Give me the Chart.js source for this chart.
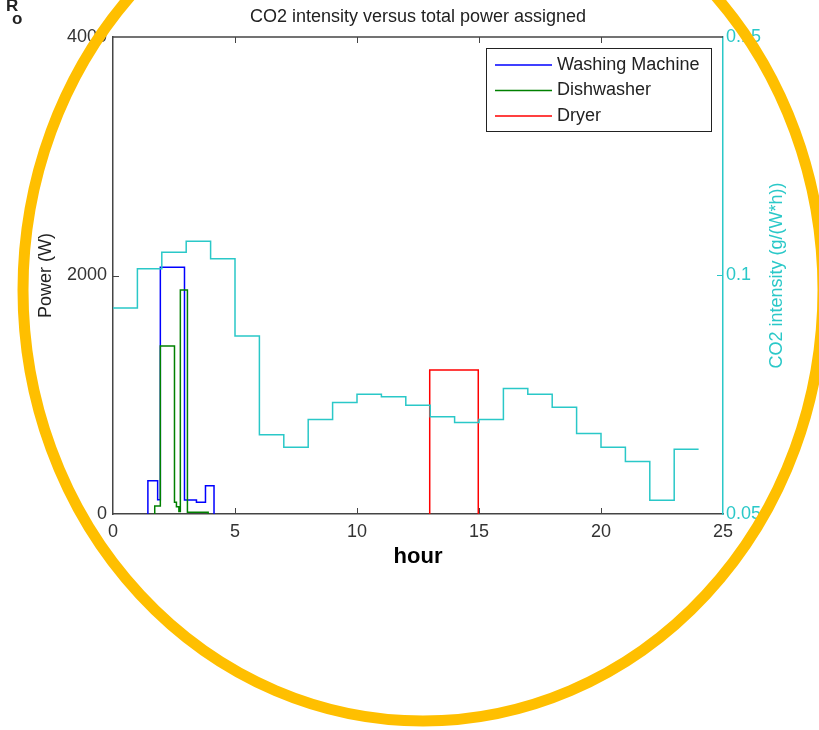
<!DOCTYPE html>
<html>
<head>
<meta charset="utf-8">
<title>CO2 intensity versus total power assigned</title>
<script src="https://cdn.jsdelivr.net/npm/chart.js@4.4.1/dist/chart.umd.min.js"></script>
<style>
  html, body { margin: 0; padding: 0; background: #fff; }
  #box { width: 819px; height: 730px; position: relative; }
</style>
</head>
<body>
<div id="box"><canvas id="chart"></canvas></div>
<script>
// hourly CO2 intensity (g/(W*h)), one value per hour 0-23
const co2Hours = [0, 1, 2, 3, 4, 5, 6, 7, 8, 9, 10, 11, 12, 13, 14, 15, 16, 17, 18, 19, 20, 21, 22, 23, 24]
const co2Intensity = [0.0932, 0.1014, 0.1049, 0.1072, 0.1035, 0.0873, 0.0666, 0.0640, 0.0698, 0.0734, 0.0751, 0.0746,
    0.0728, 0.0704, 0.0692, 0.0698, 0.0763, 0.0751, 0.0724, 0.0669, 0.0640, 0.0610, 0.0529, 0.0636]

// appliance power (W); each value holds up to its time
const washTimes = [1.43, 1.83, 1.94, 2.93, 3.42, 3.79, 4.14, 4.14]
const washPower = [0, 279, 120, 2069, 117, 98, 237, 0]
const dishTimes = [1.71, 1.94, 2.52, 2.60, 2.70, 2.76, 3.05, 3.90, 3.90]
const dishPower = [0, 67, 1409, 98, 61, 20, 1878, 14, 0]
const dryerTimes = [12.98, 14.97, 14.97]
const dryerPower = [0, 1208, 0]

// tick labels
const hourTicks = [0, 5, 10, 15, 20, 25]
const powerTicks = [0, 2000, 4000]
const co2Ticks = [0.05, 0.1, 0.15]

const FONT = "'Liberation Sans', Arial, Helvetica, sans-serif"
const CYAN = '#2ac8c8'
const AXIS = '#444'

function steps(times, values) {
    return times.map((t, i) => ({ x: t, y: values[i] }))
}

const co2Data = co2Hours.map((h, i) => ({ x: h, y: co2Intensity[Math.max(0, i - 1)] }))

function setTicks(list) {
    return scale => { scale.ticks = list.map(v => ({ value: v })) }
}

const decor = {
    id: 'decor',
    beforeDraw(chart) {
        const ctx = chart.ctx
        ctx.save()
        ctx.fillStyle = '#fff'
        ctx.fillRect(0, 0, chart.width, chart.height)
        ctx.restore()
    },
    afterDraw(chart) {
        const { ctx, chartArea: a, scales } = chart
        ctx.save()

        // top border of the box
        ctx.strokeStyle = AXIS
        ctx.lineWidth = 1.5
        ctx.beginPath()
        ctx.moveTo(a.left, a.top)
        ctx.lineTo(a.right, a.top)
        ctx.stroke()

        // inward tick marks
        ctx.lineWidth = 1
        ctx.beginPath()
        hourTicks.slice(1, -1).forEach(h => {
            const x = Math.round(scales.x.getPixelForValue(h)) + 0.5
            ctx.moveTo(x, a.bottom); ctx.lineTo(x, a.bottom - 6)
            ctx.moveTo(x, a.top); ctx.lineTo(x, a.top + 6)
        })
        powerTicks.slice(1, -1).forEach(p => {
            const y = Math.round(scales.y.getPixelForValue(p)) + 0.5
            ctx.moveTo(a.left, y); ctx.lineTo(a.left + 6, y)
        })
        ctx.stroke()
        ctx.strokeStyle = CYAN
        ctx.beginPath()
        co2Ticks.slice(1, -1).forEach(c => {
            const y = Math.round(scales.y2.getPixelForValue(c)) + 0.5
            ctx.moveTo(a.right, y); ctx.lineTo(a.right - 6, y)
        })
        ctx.stroke()

        // title
        ctx.fillStyle = '#222'
        ctx.font = '18px ' + FONT
        ctx.textAlign = 'center'
        ctx.textBaseline = 'middle'
        ctx.fillText('CO2 intensity versus total power assigned', (a.left + a.right) / 2, 17)

        // right axis title, reading upwards
        ctx.save()
        ctx.translate(777, (a.top + a.bottom) / 2)
        ctx.rotate(-Math.PI / 2)
        ctx.fillStyle = CYAN
        ctx.fillText('CO2 intensity (g/(W*h))', 0, 0)
        ctx.restore()

        // legend
        const items = chart.data.datasets.filter(d => d.inLegend)
        ctx.fillStyle = '#fff'
        ctx.fillRect(486, 48, 225, 83)
        ctx.strokeStyle = '#222'
        ctx.lineWidth = 1
        ctx.strokeRect(486.5, 48.5, 225, 83)
        ctx.textAlign = 'left'
        items.forEach((d, i) => {
            const y = 65 + i * 25.5
            ctx.strokeStyle = d.borderColor
            ctx.lineWidth = 1.5
            ctx.beginPath()
            ctx.moveTo(495, y)
            ctx.lineTo(552, y)
            ctx.stroke()
            ctx.fillStyle = '#222'
            ctx.fillText(d.label, 557, y)
        })

        // cropped header text from the page
        ctx.fillStyle = '#222'
        ctx.font = 'bold 17px ' + FONT
        ctx.fillText('R', 6, 6)
        ctx.fillText('o', 12, 19)

        // highlight ring
        ctx.strokeStyle = '#ffbf00'
        ctx.lineWidth = 11
        ctx.beginPath()
        ctx.ellipse(423, 290, 400, 431, 0, 0, Math.PI * 2)
        ctx.stroke()

        ctx.restore()
    }
}

const grafico = new Chart(document.getElementById('chart'), {
    type: 'line',
    data: {
        datasets: [
            { label: 'Washing Machine', inLegend: true, data: steps(washTimes, washPower), borderColor: '#0000ff', yAxisID: 'y', order: 3 },
            { label: 'Dishwasher', inLegend: true, data: steps(dishTimes, dishPower), borderColor: '#008000', yAxisID: 'y', order: 2 },
            { label: 'Dryer', inLegend: true, data: steps(dryerTimes, dryerPower), borderColor: '#ff0000', yAxisID: 'y', order: 1 },
            { label: 'CO2 intensity', inLegend: false, data: co2Data, borderColor: CYAN, yAxisID: 'y2', order: 0 }
        ]
    },
    options: {
        responsive: true,
        maintainAspectRatio: false,
        animation: false,
        events: [],
        layout: { padding: { top: 37, bottom: 146, left: 0, right: 0 } },
        elements: {
            line: { borderWidth: 1.5, stepped: 'after', tension: 0, fill: false },
            point: { radius: 0 }
        },
        plugins: { legend: { display: false }, tooltip: { enabled: false }, title: { display: false } },
        scales: {
            x: {
                type: 'linear', min: 0, max: 25,
                afterBuildTicks: setTicks(hourTicks),
                afterFit: s => { s.height = 70 },
                ticks: { color: '#333', font: { family: FONT, size: 18 }, padding: 7, maxRotation: 0, callback: v => String(v) },
                grid: { drawOnChartArea: false, drawTicks: false },
                border: { color: AXIS, width: 1.5 },
                title: { display: true, text: 'hour', color: '#000', font: { family: FONT, size: 22, weight: 'bold' }, padding: { top: 4, bottom: 14 } }
            },
            y: {
                position: 'left', min: 0, max: 4000,
                afterBuildTicks: setTicks(powerTicks),
                afterFit: s => { s.width = 113 },
                ticks: { color: '#333', font: { family: FONT, size: 18 }, padding: 6, callback: v => String(v) },
                grid: { drawOnChartArea: false, drawTicks: false },
                border: { color: AXIS, width: 1.5 },
                title: { display: true, text: 'Power (W)', color: '#222', font: { family: FONT, size: 18 }, padding: { top: 35, bottom: 0 } }
            },
            y2: {
                position: 'right', min: 0.05, max: 0.15,
                afterBuildTicks: setTicks(co2Ticks),
                afterFit: s => { s.width = 96 },
                ticks: { color: CYAN, font: { family: FONT, size: 18 }, padding: 3, callback: v => String(v) },
                grid: { drawOnChartArea: false, drawTicks: false },
                border: { color: CYAN, width: 1.5 }
            }
        }
    },
    plugins: [decor]
})
</script>
</body>
</html>
